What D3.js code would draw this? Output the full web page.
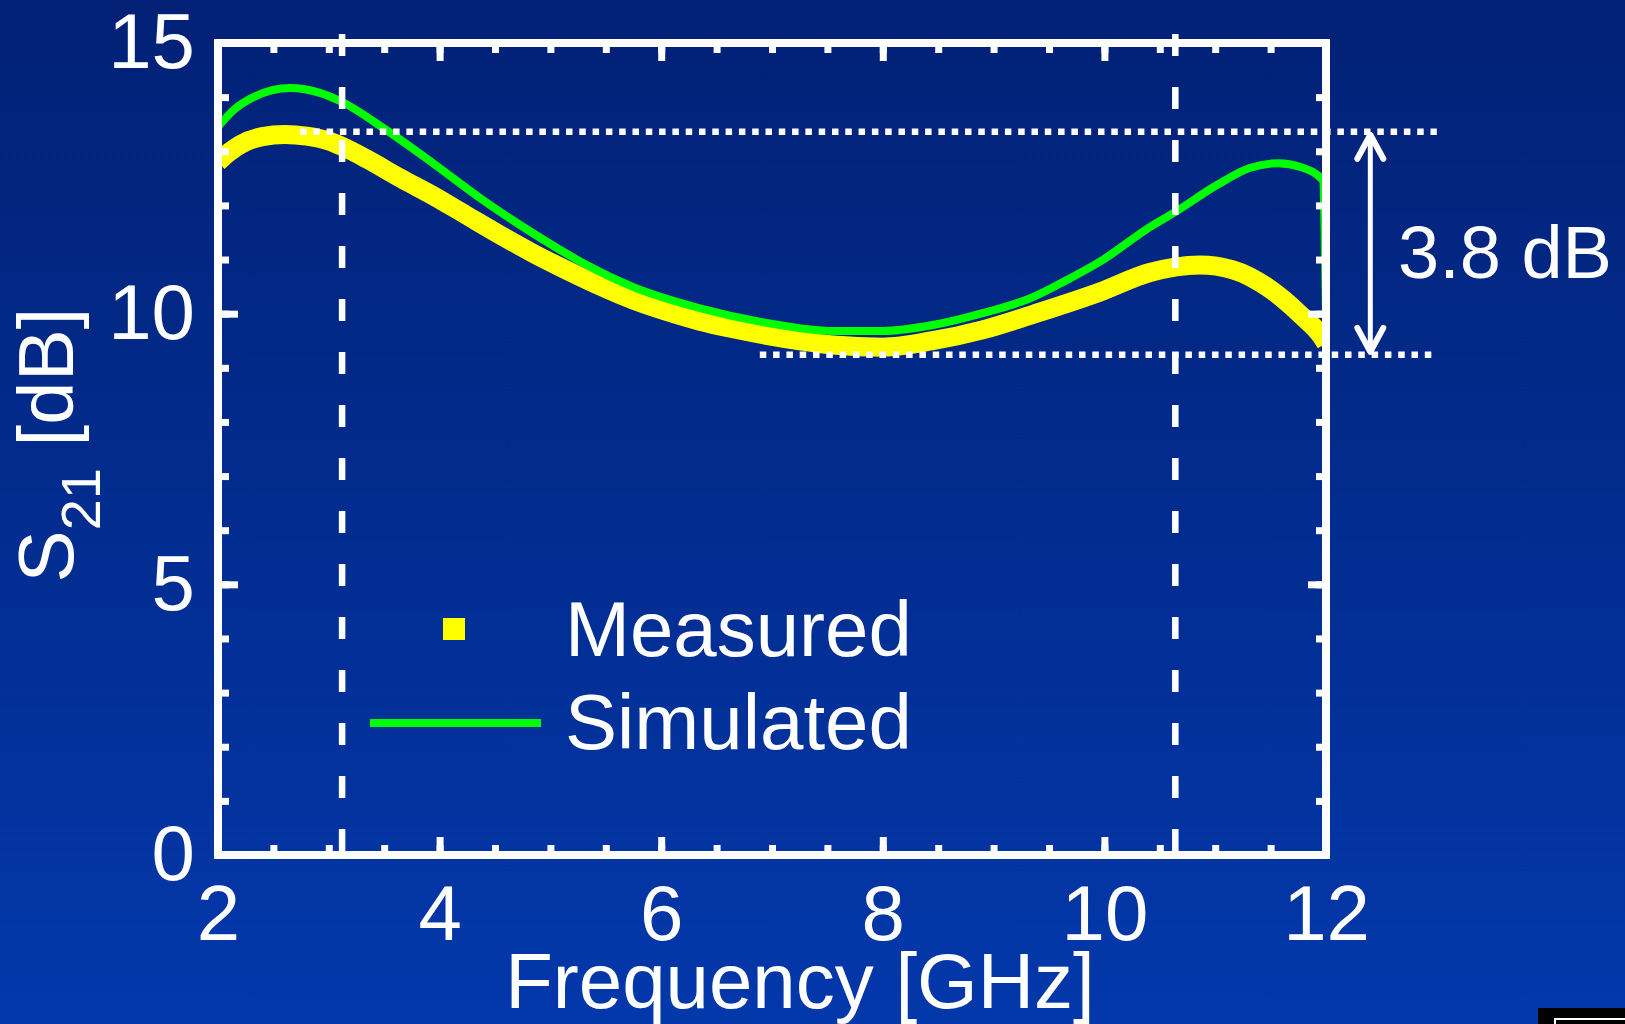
<!DOCTYPE html>
<html>
<head>
<meta charset="utf-8">
<script src="https://cdn.jsdelivr.net/npm/d3@7/dist/d3.min.js"></script>
<style>
  html, body { margin: 0; padding: 0; background: #022378; }
  svg { display: block; }
  text { font-family: "Liberation Sans", Arial, Helvetica, sans-serif; fill: #ffffff; }
</style>
</head>
<body>
<svg id="chart" width="1625" height="1024"></svg>
<script>
// ---------------- data ----------------
const simFreq = [2.0, 2.14, 2.32, 2.65, 2.92, 3.12, 3.52, 3.94, 4.39, 4.84, 5.29, 5.75, 6.35, 6.95, 7.55, 8.0, 8.45, 8.9, 9.36, 9.66, 9.96, 10.41, 10.64, 11.02, 11.31, 11.57, 11.77, 11.97, 12.0];
const simS21 = [13.45, 13.76, 14.0, 14.17, 14.08, 13.91, 13.39, 12.78, 12.10, 11.49, 10.94, 10.49, 10.10, 9.83, 9.68, 9.68, 9.79, 10.01, 10.31, 10.62, 10.96, 11.6, 11.88, 12.38, 12.69, 12.78, 12.71, 12.47, 10.0];

const measFreq = [2.0, 2.1, 2.2, 2.4, 2.6, 2.8, 3.0, 3.12, 3.35, 3.64, 3.94, 4.24, 4.55, 4.84, 5.15, 5.45, 5.75, 6.05, 6.35, 6.65, 6.95, 7.25, 7.55, 8.0, 8.45, 8.9, 9.36, 9.96, 10.41, 10.86, 11.16, 11.47, 11.77, 11.97, 12.0];
const measS21 = [12.8, 12.98, 13.12, 13.27, 13.31, 13.28, 13.19, 13.09, 12.85, 12.51, 12.18, 11.82, 11.45, 11.12, 10.8, 10.51, 10.25, 10.04, 9.86, 9.72, 9.6, 9.5, 9.42, 9.38, 9.50, 9.70, 9.99, 10.40, 10.76, 10.90, 10.81, 10.49, 9.98, 9.55, 9.45];

const seriesNames = ["Measured", "Simulated"];
const xTickValues = [2, 4, 6, 8, 10, 12];
const yTickValues = [0, 5, 10, 15];
const xMinorValues = d3.range(2, 12.001, 0.5);
const yMinorValues = d3.range(0, 15.001, 1);

const bandEdges = [3.12, 10.64];               // vertical dashed lines [GHz]
const levelValues = [13.36, 9.24];             // horizontal dotted lines [dB]
const levelFrom = [2.74, 6.89];                // start of each dotted line [GHz]
const levelTo = [13.0, 12.97];                 // end of each dotted line [GHz]
const arrowFreq = 12.40;
const annotationText = "3.8 dB";
const xLabel = "Frequency [GHz]";

// ---------------- layout ----------------
const W = 1625, H = 1024;
const svg = d3.select("#chart");
const FONT = 78;

const x = d3.scaleLinear().domain([2, 12]).range([218, 1326]);
const y = d3.scaleLinear().domain([0, 15]).range([855, 43]);

// background gradient
const defs = svg.append("defs");
const grad = defs.append("linearGradient").attr("id", "bg").attr("x1", 0).attr("y1", 0).attr("x2", 0).attr("y2", 1);
grad.append("stop").attr("offset", "0%").attr("stop-color", "#022176");
grad.append("stop").attr("offset", "50%").attr("stop-color", "#022C8F");
grad.append("stop").attr("offset", "100%").attr("stop-color", "#0338AB");
svg.append("rect").attr("width", W).attr("height", H).attr("fill", "url(#bg)");

// clip to the plot box
defs.append("clipPath").attr("id", "plotclip").append("rect")
  .attr("x", x(2)).attr("y", y(15)).attr("width", x(12) - x(2)).attr("height", y(0) - y(15));

// ---------------- curves ----------------
const meas = measFreq.map((f, i) => ({ f, v: measS21[i] }));
const sim = simFreq.map((f, i) => ({ f, v: simS21[i] }));

const curves = svg.append("g").attr("clip-path", "url(#plotclip)");
curves.append("path").datum(meas)
  .attr("fill", "none").attr("stroke", "#ffff00").attr("stroke-width", 19)
  .attr("stroke-linejoin", "round")
  .attr("d", d3.line().x(d => x(d.f)).y(d => y(d.v)).curve(d3.curveMonotoneX));

curves.append("path").datum(sim)
  .attr("fill", "none").attr("stroke", "#00ff00").attr("stroke-width", 8)
  .attr("stroke-linejoin", "round")
  .attr("d", d3.line().x(d => x(d.f)).y(d => y(d.v)).curve(d3.curveMonotoneX));

// ---------------- reference lines ----------------
const ref = svg.append("g");
ref.selectAll("line.band").data(bandEdges).join("line")
  .attr("class", "band")
  .attr("x1", d => x(d)).attr("x2", d => x(d))
  .attr("y1", 34).attr("y2", y(0))
  .attr("stroke", "#ffffff").attr("stroke-width", 6.5)
  .attr("stroke-dasharray", "22 31");

ref.selectAll("line.level").data(levelValues).join("line")
  .attr("class", "level")
  .attr("x1", (d, i) => x(levelFrom[i])).attr("x2", (d, i) => x(levelTo[i]))
  .attr("y1", d => y(d)).attr("y2", d => y(d))
  .attr("stroke", "#ffffff").attr("stroke-width", 6.5)
  .attr("stroke-dasharray", "6.5 6.8");

// double arrow
const ax = x(arrowFreq), ay1 = y(levelValues[0]) + 3, ay2 = y(levelValues[1]) - 3;
const arrow = svg.append("g").attr("stroke", "#ffffff").attr("fill", "none")
  .attr("stroke-linecap", "round").attr("stroke-linejoin", "round");
arrow.append("line").attr("x1", ax).attr("x2", ax).attr("y1", ay1).attr("y2", ay2).attr("stroke-width", 5);
arrow.append("path").attr("stroke-width", 6)
  .attr("d", `M${ax - 13},${ay1 + 24} L${ax},${ay1} L${ax + 13},${ay1 + 24}`);
arrow.append("path").attr("stroke-width", 6)
  .attr("d", `M${ax - 13},${ay2 - 24} L${ax},${ay2} L${ax + 13},${ay2 - 24}`);

svg.append("text").attr("x", x(12.65)).attr("y", 278)
  .attr("font-size", 74).text(annotationText);

// ---------------- axes ----------------
function styleAxis(g) {
  g.select(".domain").remove();
  g.selectAll(".tick line").attr("stroke", "#ffffff").attr("stroke-width", 7);
  g.selectAll("text").attr("fill", "#ffffff").attr("font-size", FONT)
    .attr("font-family", "'Liberation Sans', Arial, sans-serif");
}
// minor ticks
svg.append("g").attr("transform", `translate(0,${y(0)})`)
  .call(d3.axisBottom(x).tickValues(xMinorValues).tickSize(-10).tickFormat("")).call(styleAxis);
svg.append("g").attr("transform", `translate(0,${y(15)})`)
  .call(d3.axisTop(x).tickValues(xMinorValues).tickSize(-10).tickFormat("")).call(styleAxis);
svg.append("g").attr("transform", `translate(${x(2)},0)`)
  .call(d3.axisLeft(y).tickValues(yMinorValues).tickSize(-11).tickFormat("")).call(styleAxis);
svg.append("g").attr("transform", `translate(${x(12)},0)`)
  .call(d3.axisRight(y).tickValues(yMinorValues).tickSize(-10).tickFormat("")).call(styleAxis);
// major ticks with labels
svg.append("g").attr("transform", `translate(0,${y(0)})`)
  .call(d3.axisBottom(x).tickValues(xTickValues).tickSize(-18).tickPadding(30).tickFormat(d3.format("d")))
  .call(styleAxis);
svg.append("g").attr("transform", `translate(0,${y(15)})`)
  .call(d3.axisTop(x).tickValues(xTickValues).tickSize(-18).tickFormat("")).call(styleAxis);
svg.append("g").attr("transform", `translate(${x(2)},0)`)
  .call(d3.axisLeft(y).tickValues(yTickValues).tickSize(-20).tickPadding(23).tickFormat(d3.format("d")))
  .call(styleAxis);
svg.append("g").attr("transform", `translate(${x(12)},0)`)
  .call(d3.axisRight(y).tickValues(yTickValues).tickSize(-18).tickFormat("")).call(styleAxis);

// frame
svg.append("rect")
  .attr("x", x(2)).attr("y", y(15)).attr("width", x(12) - x(2)).attr("height", y(0) - y(15))
  .attr("fill", "none").attr("stroke", "#ffffff").attr("stroke-width", 8);

// axis titles
svg.append("text").attr("x", 800).attr("y", 1008).attr("text-anchor", "middle")
  .attr("font-size", FONT).text(xLabel);

const yl = svg.append("text").attr("transform", "translate(73,445) rotate(-90)")
  .attr("text-anchor", "middle").attr("font-size", FONT);
yl.append("tspan").text("S");
yl.append("tspan").attr("font-size", 56).attr("dy", 27).text("21");
yl.append("tspan").attr("dy", -27).text(" [dB]");

// ---------------- legend ----------------
const legend = svg.append("g");
legend.append("rect").attr("x", 443).attr("y", 618).attr("width", 22).attr("height", 22).attr("fill", "#ffff00");
legend.append("line").attr("x1", 370).attr("x2", 541).attr("y1", 723).attr("y2", 723)
  .attr("stroke", "#00ff00").attr("stroke-width", 8);
legend.selectAll("text").data(seriesNames).join("text")
  .attr("x", 565).attr("y", (d, i) => 656 + i * 93)
  .attr("font-size", FONT).text(d => d);

// small cut-off box bottom right
svg.append("rect").attr("x", 1538).attr("y", 1008).attr("width", 90).attr("height", 20).attr("fill", "#000000");
svg.append("rect").attr("x", 1555).attr("y", 1019).attr("width", 80).attr("height", 20)
  .attr("fill", "none").attr("stroke", "#ffffff").attr("stroke-width", 2);
</script>
</body>
</html>
